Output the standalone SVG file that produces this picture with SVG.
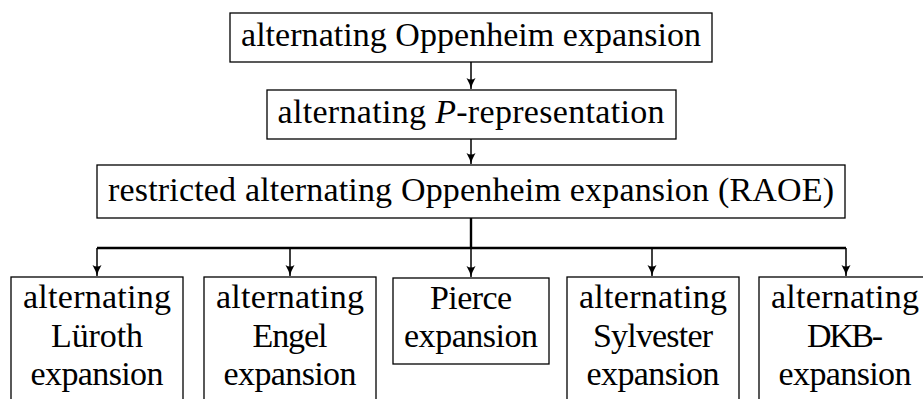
<svg xmlns="http://www.w3.org/2000/svg" width="923" height="399" viewBox="0 0 923 399">
<style>
.box{fill:#fff;stroke:#000;stroke-width:1.3}
.t{font-family:"Liberation Serif","DejaVu Serif",serif;font-size:34px;fill:#000;text-anchor:middle}
.c{fill:none;stroke:#000;stroke-width:1.5}
.bus{fill:none;stroke:#000;stroke-width:2.4}
</style>
<defs>
<marker id="ah" markerWidth="12" markerHeight="12" refX="11" refY="6" orient="auto" markerUnits="userSpaceOnUse">
<path d="M0,1.5 Q6,5 11,6 Q6,7 0,10.5 Q3,6 0,1.5 Z" fill="#000"/>
</marker>
</defs>
<rect width="923" height="399" fill="#fff"/>
<g id="connectors">
<line class="c" x1="471" y1="62" x2="471" y2="89" marker-end="url(#ah)"/>
<line class="c" x1="471" y1="139" x2="471" y2="164" marker-end="url(#ah)"/>
<line class="bus" x1="471" y1="218" x2="471" y2="248"/>
<line class="bus" x1="97" y1="248" x2="846" y2="248"/>
<line class="c" x1="97" y1="248" x2="97" y2="276" marker-end="url(#ah)"/>
<line class="c" x1="290" y1="248" x2="290" y2="276" marker-end="url(#ah)"/>
<line class="c" x1="471" y1="248" x2="471" y2="277" marker-end="url(#ah)"/>
<line class="c" x1="652" y1="248" x2="652" y2="276" marker-end="url(#ah)"/>
<line class="c" x1="846" y1="248" x2="846" y2="276" marker-end="url(#ah)"/>
</g>
<g id="n1">
<rect class="box" x="230" y="13" width="482" height="49"/>
<text class="t" x="471" y="46" textLength="460">alternating Oppenheim expansion</text>
</g>
<g id="n2">
<rect class="box" x="267" y="90" width="409" height="49"/>
<text class="t" x="471" y="123" textLength="387">alternating <tspan font-style="italic">P</tspan>-representation</text>
</g>
<g id="n3">
<rect class="box" x="97" y="165" width="748" height="53"/>
<text class="t" x="471" y="201" textLength="726">restricted alternating Oppenheim expansion (RAOE)</text>
</g>
<g id="n4">
<rect class="box" x="11" y="277" width="172" height="140"/>
<text class="t" x="97" y="308" textLength="148">alternating</text>
<text class="t" x="97" y="347" textLength="92">Lüroth</text>
<text class="t" x="97" y="385" textLength="133">expansion</text>
</g>
<g id="n5">
<rect class="box" x="204" y="277" width="172" height="140"/>
<text class="t" x="290" y="308" textLength="148">alternating</text>
<text class="t" x="290" y="347" textLength="75">Engel</text>
<text class="t" x="290" y="385" textLength="133">expansion</text>
</g>
<g id="n6">
<rect class="box" x="393" y="278" width="156" height="86"/>
<text class="t" x="471" y="309" textLength="82">Pierce</text>
<text class="t" x="471" y="347" textLength="134">expansion</text>
</g>
<g id="n7">
<rect class="box" x="567" y="277" width="172" height="140"/>
<text class="t" x="653" y="308" textLength="148">alternating</text>
<text class="t" x="653" y="347" textLength="120">Sylvester</text>
<text class="t" x="653" y="385" textLength="133">expansion</text>
</g>
<g id="n8">
<rect class="box" x="759" y="277" width="172" height="140"/>
<text class="t" x="845" y="308" textLength="148">alternating</text>
<text class="t" x="845" y="347" textLength="76">DKB-</text>
<text class="t" x="845" y="385" textLength="133">expansion</text>
</g>
</svg>
